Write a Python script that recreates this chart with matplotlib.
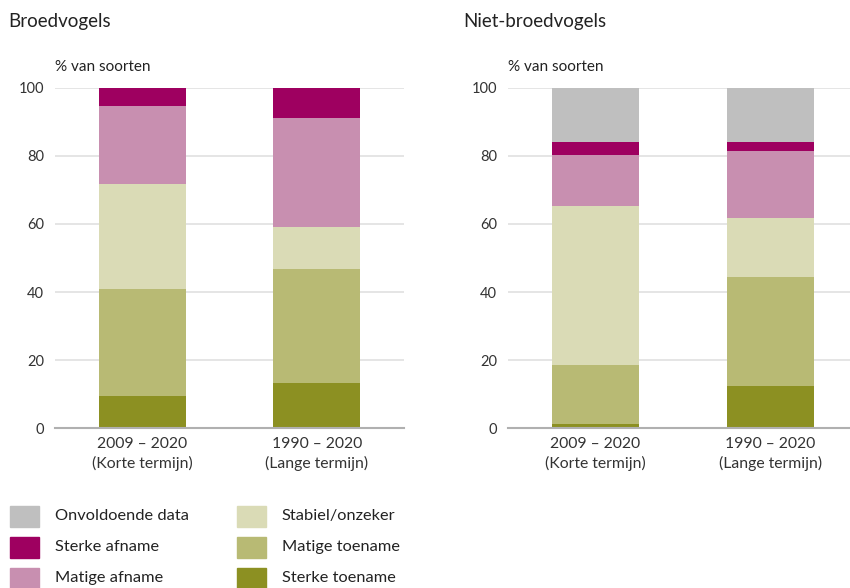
import matplotlib
matplotlib.use("Agg")
import matplotlib.pyplot as plt
from matplotlib.patches import Rectangle

plt.rcParams['font.family'] = ['Lato', 'DejaVu Sans']

periods = ["2009 \u2013 2020\n(Korte termijn)", "1990 \u2013 2020\n(Lange termijn)"]
categories = ["Sterke toename", "Matige toename", "Stabiel/onzeker",
              "Matige afname", "Sterke afname", "Onvoldoende data"]
colors = ["#8c9022", "#b8ba74", "#dadbb6", "#c88fb0", "#9e0060", "#bfbfbf"]

broed = {
    "Sterke toename": [9.6, 13.2],
    "Matige toename": [31.4, 33.6],
    "Stabiel/onzeker": [30.6, 12.2],
    "Matige afname": [23.1, 32.1],
    "Sterke afname": [5.3, 8.9],
    "Onvoldoende data": [0.0, 0.0],
}
nietbroed = {
    "Sterke toename": [1.3, 12.4],
    "Matige toename": [17.2, 32.0],
    "Stabiel/onzeker": [46.9, 17.2],
    "Matige afname": [14.7, 19.8],
    "Sterke afname": [3.9, 2.6],
    "Onvoldoende data": [16.0, 16.0],
}
yticks = [0, 20, 40, 60, 80, 100]

W, H = 850, 588
fig = plt.figure(figsize=(W / 100, H / 100), dpi=100)

def make_ax(x0, x1, title, tx, data):
    ax = fig.add_axes([x0 / W, (H - 428.3) / H, (x1 - x0) / W, (428.3 - 87.7) / H])
    bottom = [0.0, 0.0]
    for cat, col in zip(categories, colors):
        vals = data[cat]
        ax.bar(range(len(periods)), vals, width=0.5, bottom=bottom, color=col,
               zorder=3, linewidth=0)
        bottom = [b + v for b, v in zip(bottom, vals)]
    ax.set_xlim(-0.5, 1.5)
    ax.set_ylim(0, 100)
    ax.set_yticks(yticks)
    ax.set_yticklabels([str(t) for t in yticks], fontsize=10.5, color="#333333")
    ax.set_xticks(range(len(periods)))
    ax.set_xticklabels(periods, fontsize=11.3, color="#333333", linespacing=1.45)
    ax.tick_params(axis='both', length=0)
    ax.tick_params(axis='y', pad=8)
    ax.tick_params(axis='x', pad=6)
    ax.grid(axis='y', color="#e0e0e0", linewidth=1.2, zorder=0)
    for s in ["top", "right", "left"]:
        ax.spines[s].set_visible(False)
    ax.spines["bottom"].set_color("#b0b0b0")
    ax.spines["bottom"].set_linewidth(1.5)
    ax.spines["bottom"].set_zorder(4)
    fig.text(tx / W, 1 - 22 / H, title, fontsize=13.5, color="#222222", va="center", ha="left")
    fig.text(x0 / W, 1 - 67 / H, "% van soorten", fontsize=11, color="#222222", va="center", ha="left")
    return ax

make_ax(55, 404, "Broedvogels", 8, broed)
make_ax(508, 858, "Niet-broedvogels", 463, nietbroed)

# legend
legend_order = [("Onvoldoende data", 0, 0), ("Sterke afname", 0, 1), ("Matige afname", 0, 2),
                ("Stabiel/onzeker", 1, 0), ("Matige toename", 1, 1), ("Sterke toename", 1, 2)]
col_lookup = dict(zip(categories, colors))
for name, c, r in legend_order:
    sx = 10 if c == 0 else 237
    tx = 55 if c == 0 else 282
    cy = 516 + r * 31
    fig.patches.append(Rectangle((sx / W, 1 - (cy + 10.5) / H), 29 / W, 21 / H,
                                 transform=fig.transFigure, color=col_lookup[name]))
    fig.text(tx / W, 1 - cy / H, name, fontsize=11.8, color="#222222", va="center", ha="left")

fig.savefig("out.png", dpi=100)
